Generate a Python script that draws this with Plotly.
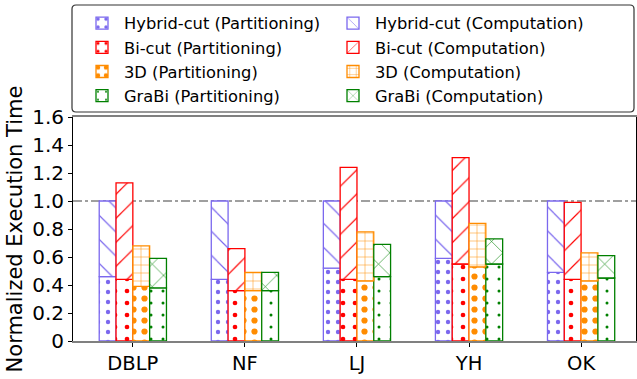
import plotly.graph_objects as go

categories = ["DBLP", "NF", "LJ", "YH", "OK"]
methods = ["Hybrid-cut", "Bi-cut", "3D", "GraBi"]
partitioning = {
    "Hybrid-cut": [0.46, 0.44, 0.52, 0.59, 0.49],
    "Bi-cut":     [0.44, 0.36, 0.44, 0.55, 0.44],
    "3D":         [0.39, 0.36, 0.43, 0.53, 0.43],
    "GraBi":      [0.38, 0.36, 0.46, 0.55, 0.45],
}
total = {
    "Hybrid-cut": [1.00, 1.00, 1.00, 1.00, 1.00],
    "Bi-cut":     [1.13, 0.66, 1.24, 1.31, 0.99],
    "3D":         [0.68, 0.49, 0.78, 0.84, 0.63],
    "GraBi":      [0.59, 0.49, 0.69, 0.73, 0.61],
}
y_ticks = [0, 0.2, 0.4, 0.6, 0.8, 1.0, 1.2, 1.4, 1.6]
y_tick_text = ["0", "0.2", "0.4", "0.6", "0.8", "1.0", "1.2", "1.4", "1.6"]

colors = {"Hybrid-cut": "#7B68EE", "Bi-cut": "#FF0000", "3D": "#FF8C00", "GraBi": "#008000"}
part_pattern = {
    "Hybrid-cut": dict(shape=".", size=10, solidity=0.15),
    "Bi-cut": dict(shape=".", size=12, solidity=0.12),
    "3D": dict(shape=".", size=11, solidity=0.25),
    "GraBi": dict(shape=".", size=12, solidity=0.05),
}
comp_pattern = {
    "Hybrid-cut": dict(shape="\\", size=17, solidity=0.07),
    "Bi-cut": dict(shape="/", size=17, solidity=0.07),
    "3D": dict(shape="+", size=8, solidity=0.12),
    "GraBi": dict(shape="x", size=16, solidity=0.07),
}

W, H = 637, 379
ML, MR, MT, MB = 73, 1, 117, 38
PW, PH = W - ML - MR, H - MT - MB


def px_x(px):
    return (px - ML) / PW


def px_y(py):
    return (H - MB - py) / PH


fig = go.Figure()
for m in methods:
    c = colors[m]
    fig.add_trace(go.Bar(
        x=categories, y=partitioning[m], name=f"{m} (Partitioning)", legend="legend",
        offsetgroup=m, marker=dict(color="white", line=dict(color=c, width=1.3),
                                   pattern=dict(fgcolor=c, bgcolor="white", fillmode="replace", **part_pattern[m])),
    ))
for m in methods:
    c = colors[m]
    comp = [t - p for t, p in zip(total[m], partitioning[m])]
    fig.add_trace(go.Bar(
        x=categories, y=comp, base=partitioning[m], name=f"{m} (Computation)", legend="legend2",
        offsetgroup=m, marker=dict(color="white", line=dict(color=c, width=1.3),
                                   pattern=dict(fgcolor=c, bgcolor="white", fillmode="replace", **comp_pattern[m])),
    ))

fig.add_hline(y=1.0, line=dict(color="gray", width=1.3, dash="dashdot"), layer="below")

# legend frame (rounded rectangle)
x0, x1, y0, y1, r = 72, 634, 5, 112, 4
path = (f"M {px_x(x0 + r)},{px_y(y0)} L {px_x(x1 - r)},{px_y(y0)} Q {px_x(x1)},{px_y(y0)} {px_x(x1)},{px_y(y0 + r)} "
        f"L {px_x(x1)},{px_y(y1 - r)} Q {px_x(x1)},{px_y(y1)} {px_x(x1 - r)},{px_y(y1)} "
        f"L {px_x(x0 + r)},{px_y(y1)} Q {px_x(x0)},{px_y(y1)} {px_x(x0)},{px_y(y1 - r)} "
        f"L {px_x(x0)},{px_y(y0 + r)} Q {px_x(x0)},{px_y(y0)} {px_x(x0 + r)},{px_y(y0)} Z")
fig.add_shape(type="path", path=path, xref="paper", yref="paper",
              line=dict(color="#333333", width=1.2), fillcolor="rgba(0,0,0,0)")

leg_common = dict(font=dict(size=16.3), bgcolor="rgba(0,0,0,0)", borderwidth=0,
                  traceorder="normal", itemwidth=34, yanchor="top", xanchor="left",
                  orientation="v", tracegroupgap=0)

fig.update_layout(
    width=W, height=H,
    margin=dict(l=ML, r=MR, t=MT, b=MB, autoexpand=False),
    paper_bgcolor="white", plot_bgcolor="white",
    barmode="group", bargap=0.4, bargroupgap=0,
    font=dict(family="DejaVu Sans", color="black"),
    showlegend=True,
    legend=dict(x=px_x(80), y=px_y(6), **leg_common),
    legend2=dict(x=px_x(331), y=px_y(6), **leg_common),
    xaxis=dict(
        range=[-0.534, 4.49], tickfont=dict(size=19.5), showline=True, linecolor="gray",
        linewidth=1.5, mirror=True, ticks="outside", ticklen=4, tickcolor="black", showgrid=False,
    ),
    yaxis=dict(
        range=[0, 1.6], tickvals=y_ticks, ticktext=y_tick_text, tickfont=dict(size=20),
        title=dict(text="Normalized Execution Time", font=dict(size=21), standoff=3),
        showline=True, linecolor="black", linewidth=1, mirror=True, ticks="outside",
        ticklen=4, tickcolor="black", showgrid=False, zeroline=False,
    ),
)

fig.write_html("out.html", config={"displayModeBar": False},
               post_script="document.body.style.margin='0';document.body.style.overflow='hidden';")
